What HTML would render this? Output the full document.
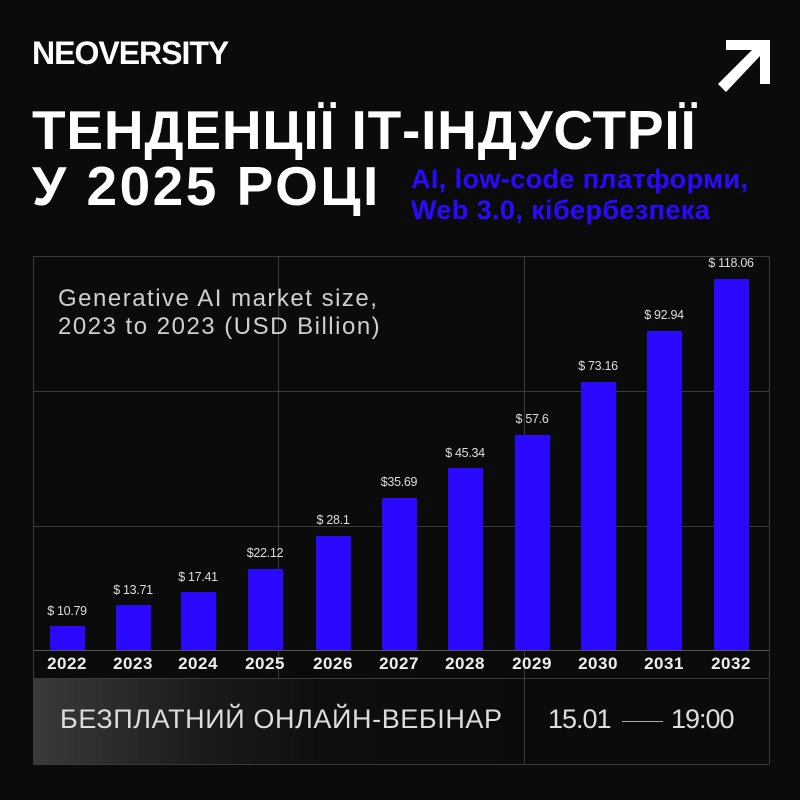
<!DOCTYPE html>
<html><head><meta charset="utf-8"><style>
*{margin:0;padding:0;box-sizing:border-box}
body{width:800px;height:800px;background:#0b0b0b;position:relative;overflow:hidden;font-family:"Liberation Sans","DejaVu Sans",sans-serif;color:#fff}
.a{position:absolute;white-space:nowrap}
.bar{position:absolute;background:#2b08ff;width:35px}
.lbl{position:absolute;font-size:12.5px;color:#ddd;text-align:center;width:70px;letter-spacing:-0.3px}
.yr{position:absolute;top:654px;font-size:17px;font-weight:bold;color:#eee;width:70px;text-align:center;letter-spacing:0.5px}
.h{position:absolute;height:1px;background:#3a3a3a}
.v{position:absolute;width:1px;background:#3a3a3a}
</style></head><body>
<div class="a" style="left:32px;top:35px;font-size:32px;font-weight:bold;letter-spacing:-1px">NEOVERSITY</div>
<svg class="a" style="left:718px;top:40px" width="54" height="52"><polygon points="8,0 52,0 52,44 42,44 42,16 8,52 0,44 34,10 8,10" fill="#fff"/></svg>
<div class="a" style="left:32px;top:98px;font-size:55px;font-weight:bold;letter-spacing:0.8px">ТЕНДЕНЦІЇ ІТ-ІНДУСТРІЇ</div>
<div class="a" style="left:32px;top:154px;font-size:55px;font-weight:bold;letter-spacing:2.5px">У 2025 РОЦІ</div>
<div class="a" style="left:411px;top:164px;font-size:27px;font-weight:bold;color:#2b08ff;line-height:31px;letter-spacing:0.4px">AI, low-code платформи,<br>Web 3.0, кібербезпека</div>

<div class="h" style="left:33px;top:256px;width:736px"></div>
<div class="h" style="left:33px;top:391px;width:736px"></div>
<div class="h" style="left:33px;top:526px;width:736px"></div>
<div class="h" style="left:33px;top:650px;width:736px;background:#555"></div>
<div class="h" style="left:33px;top:678px;width:736px"></div>
<div class="h" style="left:33px;top:764px;width:736px"></div>
<div class="v" style="left:33px;top:256px;height:508px"></div>
<div class="v" style="left:769px;top:256px;height:508px"></div>
<div class="v" style="left:278px;top:256px;height:444px"></div>
<div class="v" style="left:524px;top:256px;height:508px"></div>
<div style="position:absolute;left:34px;top:679px;width:490px;height:85px;background:linear-gradient(90deg,#3a3a3a 0%,#1a1a1a 35%,#0e0e0e 60%,#0b0b0b 100%)"></div>

<div class="a" style="left:58px;top:285px;font-size:24px;color:#cfcfcf;line-height:28px;letter-spacing:1.5px">Generative AI market size,<br>2023 to 2023 (USD Billion)</div>

<div class="bar" style="left:50px;top:626px;height:24px"></div>
<div class="bar" style="left:116px;top:605px;height:45px"></div>
<div class="bar" style="left:181px;top:592px;height:58px"></div>
<div class="bar" style="left:248px;top:569px;height:81px"></div>
<div class="bar" style="left:316px;top:536px;height:114px"></div>
<div class="bar" style="left:382px;top:498px;height:152px"></div>
<div class="bar" style="left:448px;top:468px;height:182px"></div>
<div class="bar" style="left:515px;top:435px;height:215px"></div>
<div class="bar" style="left:581px;top:382px;height:268px"></div>
<div class="bar" style="left:647px;top:331px;height:319px"></div>
<div class="bar" style="left:714px;top:279px;height:371px"></div>

<div class="lbl" style="left:32px;top:604px">$ 10.79</div>
<div class="lbl" style="left:98px;top:583px">$ 13.71</div>
<div class="lbl" style="left:163px;top:570px">$ 17.41</div>
<div class="lbl" style="left:230px;top:546px">$22.12</div>
<div class="lbl" style="left:298px;top:513px">$ 28.1</div>
<div class="lbl" style="left:364px;top:475px">$35.69</div>
<div class="lbl" style="left:430px;top:446px">$ 45.34</div>
<div class="lbl" style="left:497px;top:412px">$ 57.6</div>
<div class="lbl" style="left:563px;top:359px">$ 73.16</div>
<div class="lbl" style="left:629px;top:308px">$ 92.94</div>
<div class="lbl" style="left:696px;top:256px">$ 118.06</div>

<div class="yr" style="left:32px">2022</div>
<div class="yr" style="left:98px">2023</div>
<div class="yr" style="left:163px">2024</div>
<div class="yr" style="left:230px">2025</div>
<div class="yr" style="left:298px">2026</div>
<div class="yr" style="left:364px">2027</div>
<div class="yr" style="left:430px">2028</div>
<div class="yr" style="left:497px">2029</div>
<div class="yr" style="left:563px">2030</div>
<div class="yr" style="left:629px">2031</div>
<div class="yr" style="left:696px">2032</div>

<div class="a" style="left:60px;top:704px;font-size:27px;color:#ddd;letter-spacing:0.6px">БЕЗПЛАТНИЙ ОНЛАЙН-ВЕБІНАР</div>
<div class="a" style="left:548px;top:704px;font-size:27px;color:#ddd;letter-spacing:-1px">15.01</div>
<div class="h" style="left:622px;top:721px;width:41px;background:#aaa"></div>
<div class="a" style="left:671px;top:704px;font-size:27px;color:#ddd;letter-spacing:-1px">19:00</div>
</body></html>
